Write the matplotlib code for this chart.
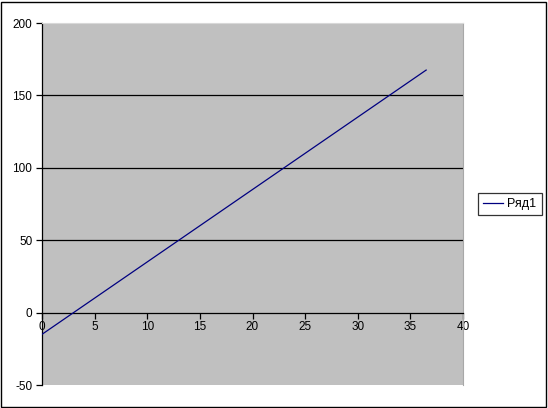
import matplotlib
matplotlib.use('Agg')
from matplotlib import pyplot as plt
from matplotlib.patches import Rectangle

# series data
x_vals = [0, 36.5]
y_vals = [-15, 167.5]
series_name = 'Ряд1'

x_ticks = [0, 5, 10, 15, 20, 25, 30, 35, 40]
y_ticks = [-50, 0, 50, 100, 150, 200]
grid_levels = [50, 100, 150]

plt.rcParams['font.family'] = ['Liberation Sans', 'DejaVu Sans']
plt.rcParams['axes.unicode_minus'] = False

fig = plt.figure(figsize=(5.48, 4.08), dpi=100)
W, H = 548, 408
# plot area in pixels: left 42, right 463, top 23, bottom 385
ax = fig.add_axes([42 / W, 1 - 385 / H, (463 - 42) / W, (385 - 23) / H])
ax.set_facecolor('#c0c0c0')
ax.set_xlim(0, 40)
ax.set_ylim(-50, 200)

for lvl in grid_levels:
    ax.axhline(lvl, color='black', lw=0.9, zorder=1)

ax.plot(x_vals, y_vals, color='#000080', lw=0.9, zorder=3, label=series_name)

# spines: left axis black, x axis at y=0, rest light grey border
ax.spines['left'].set_color('black')
ax.spines['left'].set_linewidth(0.9)
ax.spines['bottom'].set_position(('data', 0))
ax.spines['bottom'].set_color('black')
ax.spines['bottom'].set_linewidth(0.9)
ax.spines['top'].set_color('#d8d8d8')
ax.spines['right'].set_color('#a8a8a8')

ax.set_xticks(x_ticks)
ax.set_yticks(y_ticks)
ax.tick_params(axis='both', direction='out', length=4, width=0.9,
               labelsize=8.5, colors='black')
ax.tick_params(axis='x', pad=2)
ax.tick_params(axis='y', pad=3)

# legend box
leg = fig.legend(loc='center left', bbox_to_anchor=(478 / W, 1 - 204 / H),
                 frameon=True, fancybox=False, fontsize=9,
                 handlelength=1.6, borderpad=0.4, handletextpad=0.35,
                 borderaxespad=0)
leg.get_frame().set_edgecolor('black')
leg.get_frame().set_linewidth(0.9)

# outer chart border
fig.patches.append(Rectangle((1 / W, 1 / H), 1 - 3 / W, 1 - 3 / H,
                             transform=fig.transFigure, fill=False,
                             edgecolor='black', lw=1.0))

fig.savefig('out.png', dpi=100, facecolor='white')
